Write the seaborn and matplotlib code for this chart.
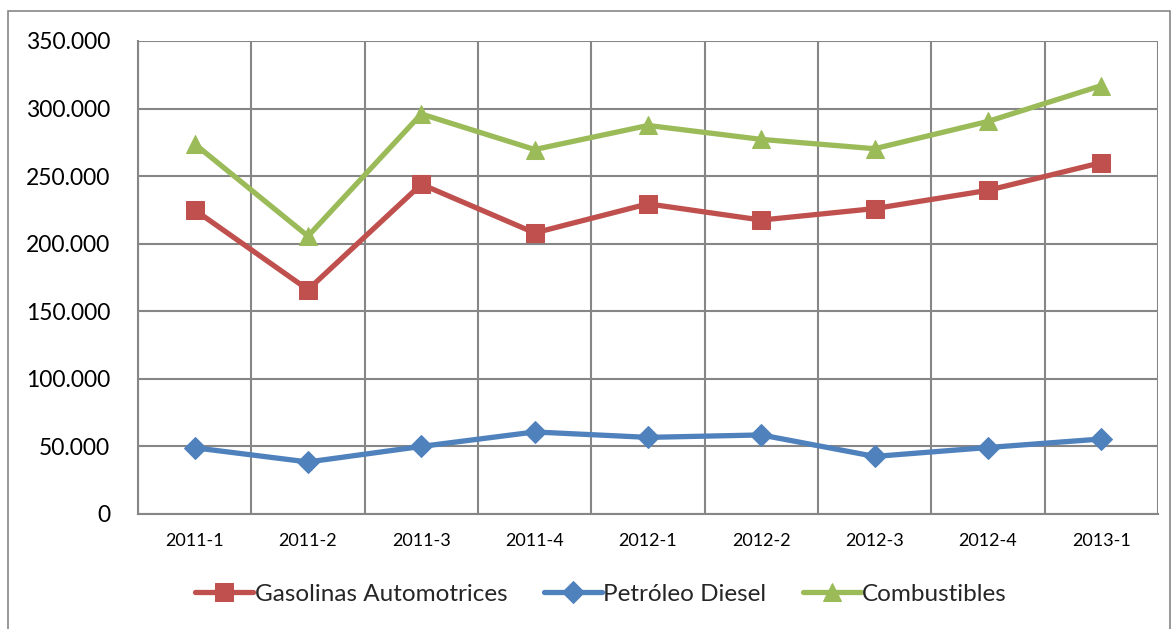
import matplotlib
matplotlib.use("Agg")
import matplotlib.pyplot as plt
import seaborn as sns
import pandas as pd
from matplotlib.ticker import FuncFormatter, FixedLocator, MultipleLocator
from matplotlib.patches import Rectangle

periods = ["2011-1", "2011-2", "2011-3", "2011-4", "2012-1", "2012-2", "2012-3", "2012-4", "2013-1"]
gasolinas = [225000, 166000, 244000, 208000, 229500, 217500, 226000, 239500, 260000]
diesel = [49000, 38500, 50000, 60700, 56700, 58500, 42600, 49200, 55500]
combustibles = [273800, 205600, 296000, 269700, 287500, 277200, 270300, 290500, 317000]

series_names = ["Gasolinas Automotrices", "Petróleo Diesel", "Combustibles"]
colors = ["#C0504D", "#4F81BD", "#9BBB59"]
markers = ["s", "D", "^"]
msizes = [13, 11, 13]

sns.set_theme(style="white")
plt.rcParams['font.family'] = ['Lato', 'DejaVu Sans']

fig = plt.figure(figsize=(11.74, 6.29), dpi=100)
ax = fig.add_axes([138/1174, 1 - 514/629, (1158-138)/1174, (514-41)/629])

x = list(range(len(periods)))
data = [gasolinas, diesel, combustibles]
for name, vals, c, m, ms in zip(series_names, data, colors, markers, msizes):
    df = pd.DataFrame({"x": x, "y": vals})
    sns.lineplot(data=df, x="x", y="y", ax=ax, color=c, marker=m, markersize=ms,
                 markeredgecolor=c, linewidth=3.8, label=name, zorder=3)

ax.set_xlim(-0.5, len(periods) - 0.5)
ax.set_ylim(0, 350000)
ax.yaxis.set_major_locator(MultipleLocator(50000))
ax.yaxis.set_major_formatter(FuncFormatter(lambda v, p: f"{v:,.0f}".replace(",", ".")))
ax.xaxis.set_major_locator(FixedLocator(x))
ax.set_xticklabels(periods)
ax.xaxis.set_minor_locator(FixedLocator([i - 0.5 for i in range(len(periods) + 1)]))

gc = "#868686"
ax.grid(True, which="major", axis="y", color=gc, linewidth=1.5)
ax.grid(True, which="minor", axis="x", color=gc, linewidth=1.5)
ax.set_axisbelow(True)
for s in ["top", "right"]:
    ax.spines[s].set_visible(False)
for s in ["left", "bottom"]:
    ax.spines[s].set_color(gc)
    ax.spines[s].set_linewidth(1.5)

ax.tick_params(axis="x", which="major", length=0, labelsize=13, pad=14, colors="black")
ax.tick_params(axis="x", which="minor", length=7, width=1.5, color=gc, direction="out")
ax.tick_params(axis="y", which="major", length=7, width=1.5, color=gc, direction="out",
               labelsize=16.5, pad=13, labelcolor="black")
ax.set_xlabel("")
ax.set_ylabel("")

leg = fig.legend(*ax.get_legend_handles_labels(), loc="center", bbox_to_anchor=(601/1174, 1 - 594/629),
                 ncol=3, frameon=False, fontsize=17.5, handlelength=2.4, handletextpad=0.05,
                 columnspacing=1.5)
ax.get_legend().remove()

fig.patches.append(Rectangle((8/1174, -0.05), (1170-8)/1174, 1 - 11/629 + 0.05,
                             transform=fig.transFigure, fill=False, edgecolor=gc,
                             linewidth=1.2, zorder=0))

fig.savefig("out.png", dpi=100)
